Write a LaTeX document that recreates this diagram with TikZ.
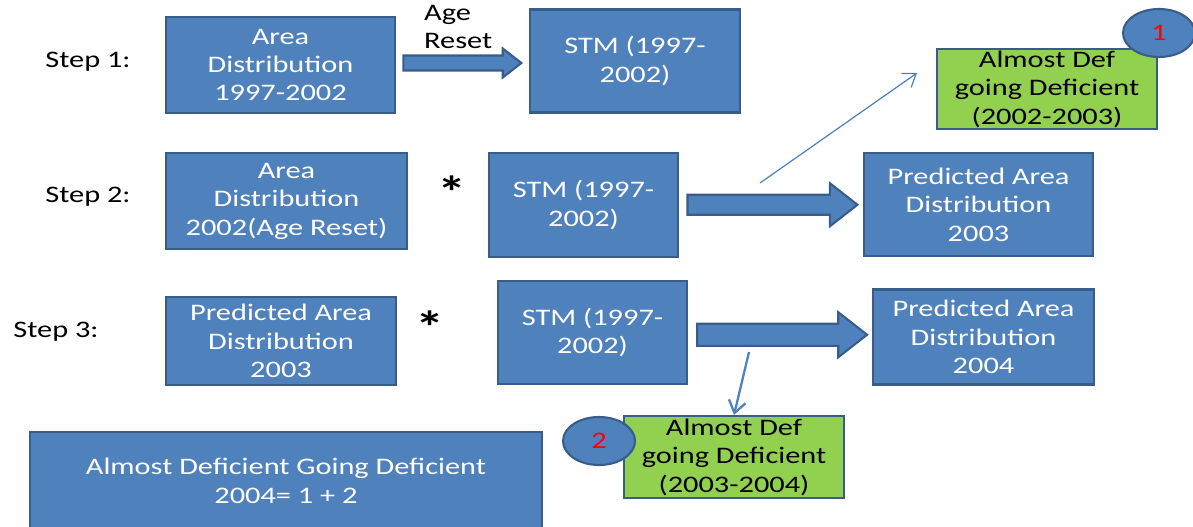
\documentclass[tikz,border=0pt]{standalone}
\usepackage{fontspec}
\setmainfont{Carlito}[FakeStretch=1.28]
\usetikzlibrary{arrows.meta, calc, shapes.geometric, shapes.arrows}
\definecolor{boxblue}{HTML}{4F81BD}
\definecolor{boxline}{HTML}{385D8A}
\definecolor{defgreen}{HTML}{92D050}

\begin{document}
\begin{tikzpicture}[x=0.02cm, y=-0.02cm, >={Straight Barb[length=2.4mm, width=3.4mm]},
  every node/.style={font=\fontsize{13.5}{16.2}\selectfont},
  bluebox/.style={draw=boxline, line width=1.2pt, fill=boxblue, text=white, align=center, inner sep=0pt},
  greenbox/.style={draw=boxline, line width=1.2pt, fill=defgreen, text=black, align=center, inner sep=0pt},
  numoval/.style={ellipse, draw=boxline, line width=1.2pt, fill=boxblue, text=red, inner sep=0pt, minimum width=1.44cm, minimum height=0.96cm},
  blockarr/.style={single arrow, draw=boxline, line width=1.2pt, fill=boxblue, inner xsep=0pt, single arrow tip angle=76, xshift=-0.1cm},
  starlbl/.style={font=\fontsize{26}{28}\selectfont\bfseries}]
  \useasboundingbox (0,0) rectangle (1193,527);
  % step labels
  \node (step1) at (88,62) {Step 1:};
  \node (step2) at (88,197) {Step 2:};
  \node (step3) at (56,332) {Step 3:};
  % step 1
  \node[bluebox, minimum width=4.58cm, minimum height=1.92cm] (area1) at (280.5,65) {Area\\Distribution\\1997-2002};
  \node[bluebox, minimum width=4.2cm, minimum height=2.06cm] (stm1) at (635,61) {STM (1997-\\2002)};
  \node[blockarr, minimum height=2.36cm, inner ysep=0.13cm, single arrow head extend=0.14cm] (arr1) at ($(area1.east)!0.5!(stm1.west)$) {};
  \node[align=left, anchor=west] (agelbl) at (418,27) {Age\\Reset};
  % step 2
  \node[bluebox, minimum width=4.82cm, minimum height=1.92cm] (area2) at (286.5,201) {Area\\Distribution\\2002(Age Reset)};
  \node[starlbl] (star2) at (452,192) {*};
  \node[bluebox, minimum width=3.78cm, minimum height=2.08cm] (stm2) at (583.5,205) {STM (1997-\\2002)};
  \node[bluebox, minimum width=4.58cm, minimum height=2.06cm] (pred2) at (978.5,204.5) {Predicted Area\\Distribution\\2003};
  \node[blockarr, minimum height=3.4cm, inner ysep=0.18cm, single arrow head extend=0.23cm] (arr2) at ($(stm2.east)!0.5!(pred2.west)$) {};
  % step 3
  \node[bluebox, minimum width=4.6cm, minimum height=1.76cm] (area3) at (281,341) {Predicted Area\\Distribution\\2003};
  \node[starlbl] (star3) at (430,327) {*};
  \node[bluebox, minimum width=3.78cm, minimum height=2.06cm] (stm3) at (592.5,332.5) {STM (1997-\\2002)};
  \node[bluebox, minimum width=4.42cm, minimum height=1.9cm] (pred3) at (983.5,337) {Predicted Area\\Distribution\\2004};
  \node[blockarr, minimum height=3.4cm, inner ysep=0.2cm, single arrow head extend=0.23cm] (arr3) at ($(stm3.east)!0.5!(pred3.west)$) {};
  % almost deficient boxes
  \node[greenbox, minimum width=4.4cm, minimum height=1.6cm] (green1) at (1047,89) {Almost Def\\going Deficient\\(2002-2003)};
  \node[greenbox, minimum width=4.4cm, minimum height=1.64cm] (green2) at (734,457) {Almost Def\\going Deficient\\(2003-2004)};
  \node[numoval] (num1) at (1159,33) {1};
  \node[numoval] (num2) at (599,441) {2};
  \coordinate (up1) at (760,183);
  \coordinate (up2) at (917,73);
  \coordinate (down1) at (749,352);
  \draw[->, boxblue, line width=0.7pt] (up1) -- (up2);
  \draw[->, boxblue, line width=1.3pt] (down1) -- (green2.north);
  % total
  \node[bluebox, minimum width=10.24cm, minimum height=1.96cm] (total) at (286,481) {Almost Deficient Going Deficient\\2004= 1 + 2};
\end{tikzpicture}
\end{document}
